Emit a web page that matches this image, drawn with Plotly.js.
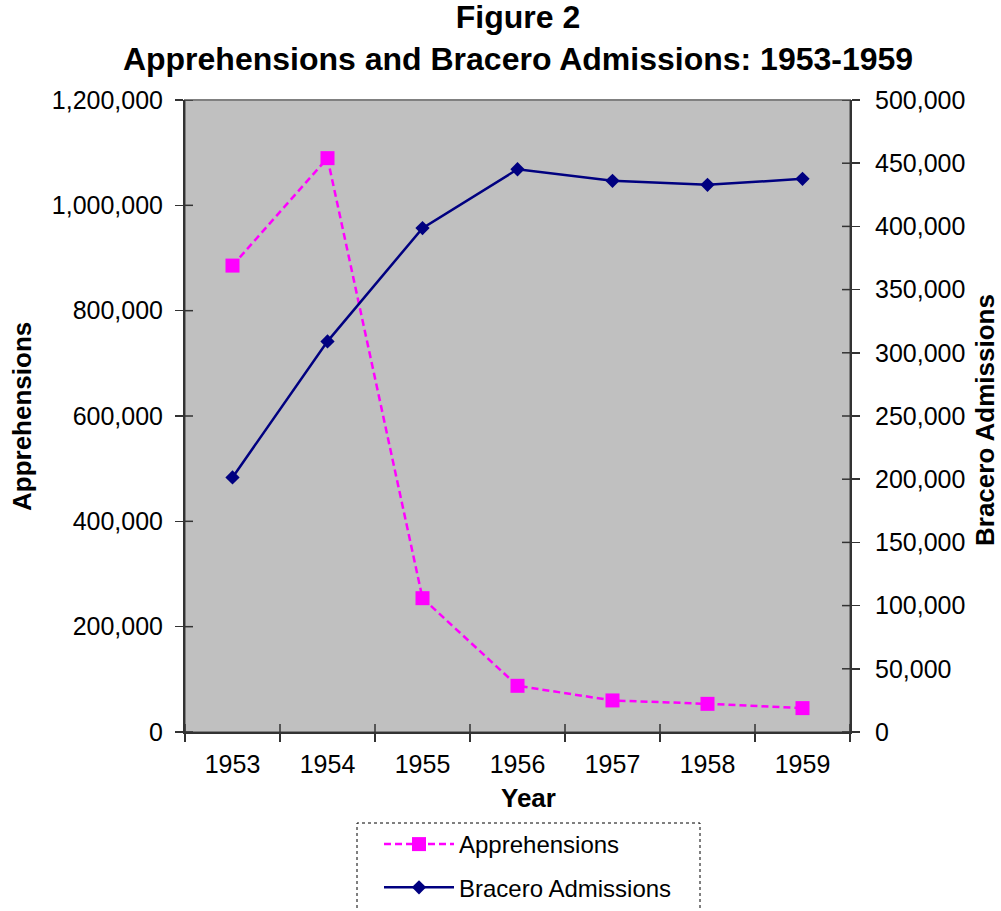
<!DOCTYPE html>
<html>
<head>
<meta charset="utf-8">
<script src="https://cdn.plot.ly/plotly-3.0.1.min.js"></script>
<style>
  html, body { margin: 0; padding: 0; background: #ffffff; }
  #chart { width: 1001px; height: 911px; }
</style>
</head>
<body>
<div id="chart"></div>
<script>
// ---- Data ----
const years = ["1953", "1954", "1955", "1956", "1957", "1958", "1959"];
const apprehensions = [885587, 1089583, 254096, 87696, 59918, 53474, 45336];
const braceroAdmissions = [201380, 309033, 398650, 445197, 436049, 432857, 437643];

const leftTicks = [0, 200000, 400000, 600000, 800000, 1000000, 1200000];
const rightTicks = [0, 50000, 100000, 150000, 200000, 250000, 300000, 350000, 400000, 450000, 500000];

// ---- Styling ----
const FONT = "Liberation Sans, Arial, Helvetica, sans-serif";
const AXIS_COLOR = "#333333";
const W = 1001, H = 911;
const M = { l: 185, r: 151, t: 100, b: 179 };
const PLOT_W = W - M.l - M.r;
const PLOT_H = H - M.t - M.b;
const TICK_IN = 8;
// pixel -> paper helpers (for layout placement only)
const px = x => (x - M.l) / PLOT_W;
const py = y => (H - M.b - y) / PLOT_H;

const traces = [
  {
    x: years, y: apprehensions, name: "Apprehensions",
    type: "scatter", mode: "lines+markers",
    xaxis: "x", yaxis: "y", legendgroup: "a",
    line: { color: "#FF00FF", width: 2.5, dash: "7px,4px" },
    marker: { symbol: "square", size: 14, color: "#FF00FF", line: { width: 0 } },
    hoverinfo: "skip"
  },
  {
    x: years, y: braceroAdmissions, name: "Bracero Admissions",
    type: "scatter", mode: "lines+markers",
    xaxis: "x", yaxis: "y2", legendgroup: "b",
    line: { color: "#000080", width: 2.5 },
    marker: { symbol: "diamond", size: 11, color: "#000080", line: { width: 0 } },
    hoverinfo: "skip"
  }
];

const shapes = [
  // plot-area frame (grey)
  { type: "rect", xref: "paper", yref: "paper", x0: 0, x1: 1, y0: 0, y1: 1,
    line: { color: "#808080", width: 2 }, layer: "below" }
];
// inside halves of the crossing tick marks (Excel style)
leftTicks.forEach(v => shapes.push({
  type: "line", xref: "paper", yref: "y", x0: 0, x1: TICK_IN / PLOT_W, y0: v, y1: v,
  line: { color: AXIS_COLOR, width: 1.5 }
}));
rightTicks.forEach(v => shapes.push({
  type: "line", xref: "paper", yref: "y2", x0: 1 - TICK_IN / PLOT_W, x1: 1, y0: v, y1: v,
  line: { color: AXIS_COLOR, width: 1.5 }
}));
for (let i = 0; i <= years.length; i++) {
  shapes.push({
    type: "line", xref: "x", yref: "paper", x0: i - 0.5, x1: i - 0.5, y0: 0, y1: TICK_IN / PLOT_H,
    line: { color: AXIS_COLOR, width: 1.5 }
  });
}
// dotted legend frame
shapes.push({
  type: "rect", xref: "paper", yref: "paper",
  x0: px(357), x1: px(700), y0: py(925), y1: py(823),
  line: { color: "#000000", width: 1, dash: "dot" }
});

const annotations = [
  { text: "<b>Apprehensions</b>", xref: "paper", yref: "paper", x: px(22), y: py(417),
    xanchor: "center", yanchor: "middle", textangle: -90, showarrow: false,
    font: { family: FONT, size: 26, color: "#000000" } },
  { text: "<b>Bracero Admissions</b>", xref: "paper", yref: "paper", x: px(985), y: py(420),
    xanchor: "center", yanchor: "middle", textangle: -90, showarrow: false,
    font: { family: FONT, size: 26, color: "#000000" } },
  { text: "<b>Year</b>", xref: "paper", yref: "paper", x: px(528), y: py(798),
    xanchor: "center", yanchor: "middle", showarrow: false,
    font: { family: FONT, size: 26, color: "#000000" } }
];

const layout = {
  width: W, height: H,
  margin: { l: M.l, r: M.r, t: M.t, b: M.b, autoexpand: false },
  paper_bgcolor: "#ffffff",
  plot_bgcolor: "#C0C0C0",
  font: { family: FONT, color: "#000000", size: 24 },
  title: {
    text: "<b>Figure 2</b><br><b>Apprehensions and Bracero Admissions: 1953-1959</b>",
    font: { family: FONT, size: 32, color: "#000000" },
    x: 0.5175, xanchor: "center",
    yref: "container", y: 1 - 28 / H, yanchor: "top"
  },
  xaxis: {
    type: "category", range: [-0.5, years.length - 0.5],
    tickson: "boundaries", ticks: "outside", ticklen: 8, tickwidth: 1.5, tickcolor: AXIS_COLOR,
    showline: true, linecolor: AXIS_COLOR, linewidth: 2,
    showgrid: false, zeroline: false, automargin: false,
    tickfont: { family: FONT, size: 25 },
    ticklabelstandoff: 9
  },
  yaxis: {
    range: [0, 1200000], tickvals: leftTicks, tickformat: ",d",
    ticks: "outside", ticklen: 8, tickwidth: 1.5, tickcolor: AXIS_COLOR,
    showline: true, linecolor: AXIS_COLOR, linewidth: 2,
    showgrid: false, zeroline: false, automargin: false,
    tickfont: { family: FONT, size: 25 },
    ticklabelstandoff: 7
  },
  yaxis2: {
    overlaying: "y", side: "right",
    range: [0, 500000], tickvals: rightTicks, tickformat: ",d",
    ticks: "outside", ticklen: 8, tickwidth: 1.5, tickcolor: AXIS_COLOR,
    showline: true, linecolor: AXIS_COLOR, linewidth: 2,
    showgrid: false, zeroline: false, automargin: false,
    tickfont: { family: FONT, size: 25 },
    ticklabelstandoff: 10
  },
  showlegend: true,
  legend: {
    x: px(379), xanchor: "left",
    y: py(822), yanchor: "top",
    bgcolor: "rgba(0,0,0,0)", borderwidth: 0,
    font: { family: FONT, size: 24 },
    traceorder: "grouped", tracegroupgap: 9,
    itemwidth: 70
  },
  shapes: shapes,
  annotations: annotations,
  hovermode: false
};

Plotly.newPlot("chart", traces, layout, { displayModeBar: false, staticPlot: true });
</script>
</body>
</html>
